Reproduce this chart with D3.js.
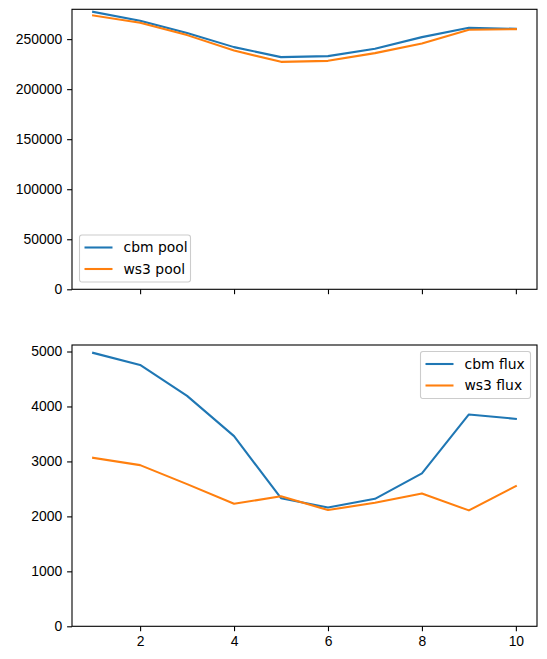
<!DOCTYPE html>
<html>
<head>
<meta charset="utf-8">
<script src="https://cdn.jsdelivr.net/npm/d3@7"></script>
<style>
  body { margin: 0; background: #fff; }
  svg { display: block; font-family: "DejaVu Sans", sans-serif; }
  .axis text { font-size: 13.9px; fill: #000; }
  .axis path, .axis line { stroke: #000; stroke-width: 1.1; }
</style>
</head>
<body>
<div id="chart"></div>
<script>
//Datos
const periods = [1, 2, 3, 4, 5, 6, 7, 8, 9, 10];
const cbmPool = [277300, 268300, 256000, 242000, 232000, 233000, 240300, 252000, 261300, 260300];
const ws3Pool = [273600, 266300, 254000, 238600, 227300, 228300, 236000, 245600, 259300, 260000];
const cbmFlux = [4975, 4756, 4193, 3460, 2330, 2160, 2320, 2782, 3855, 3775];
const ws3Flux = [3066, 2933, 2587, 2229, 2365, 2115, 2247, 2418, 2109, 2551];
const xTicks = [2, 4, 6, 8, 10];
const poolTicks = [0, 50000, 100000, 150000, 200000, 250000];
const fluxTicks = [0, 1000, 2000, 3000, 4000, 5000];

//Colores fijos
const COLOR_1 = '#1f77b4',
COLOR_2 = '#ff7f0e';

let W = 547, H = 659;
let left = 72, right = 537;

let svg = d3.select('#chart')
    .append('svg')
        .attr('width', W)
        .attr('height', H);

let x = d3.scaleLinear()
    .domain([0.55, 10.45])
    .range([left, right]);

function panel(top, bottom, a, b, names, ticks, legendPos, showXLabels) {
    let all = a.concat(b);
    let mx = d3.max(all), mn = d3.min(all);
    let y = d3.scaleLinear()
        .domain([0, mx + 0.05 * (mx - mn)])
        .range([bottom, top]);

    let g = svg.append('g');

    let line = d3.line()
        .x(function(d, i) { return x(periods[i]); })
        .y(function(d) { return y(d); });

    [a, b].forEach(function(s, k) {
        g.append('path')
            .datum(s)
            .attr('fill', 'none')
            .attr('stroke', k == 0 ? COLOR_1 : COLOR_2)
            .attr('stroke-width', 2.08)
            .attr('stroke-linejoin', 'round')
            .attr('stroke-linecap', 'square')
            .attr('d', line);
    });

    //Ejes
    g.append('g')
        .attr('class', 'axis')
        .attr('transform', 'translate(' + left + ',0)')
        .call(d3.axisLeft(y).tickValues(ticks).tickSizeOuter(0).tickSize(4.9).tickPadding(4.9).tickFormat(d3.format('d')))
        .call(function(g) { g.select('.domain').remove(); });

    g.append('g')
        .attr('class', 'axis')
        .attr('transform', 'translate(0,' + bottom + ')')
        .call(d3.axisBottom(x).tickValues(xTicks).tickSizeOuter(0).tickSize(4.9).tickPadding(4.9)
            .tickFormat(showXLabels ? d3.format('d') : function() { return ''; }))
        .call(function(g) { g.select('.domain').remove(); });

    g.append('rect')
        .attr('x', left)
        .attr('y', top)
        .attr('width', right - left)
        .attr('height', bottom - top)
        .attr('fill', 'none')
        .attr('stroke', '#000')
        .attr('stroke-width', 1.1);

    //Leyenda
    let lw = legendPos.w, lh = 47;
    let lg = g.append('g')
        .attr('transform', 'translate(' + legendPos.x + ',' + legendPos.y + ')');
    lg.append('rect')
        .attr('width', lw)
        .attr('height', lh)
        .attr('rx', 2.5)
        .attr('fill', 'rgba(255,255,255,0.8)')
        .attr('stroke', '#cccccc')
        .attr('stroke-width', 1.1);
    names.forEach(function(n, k) {
        let cy = 12.5 + k * 21.5;
        lg.append('line')
            .attr('x1', 5).attr('x2', 33)
            .attr('y1', cy).attr('y2', cy)
            .attr('stroke', k == 0 ? COLOR_1 : COLOR_2)
            .attr('stroke-width', 2.08);
        lg.append('text')
            .attr('x', 44)
            .attr('y', cy)
            .attr('dy', '0.35em')
            .style('font-size', '13.9px')
            .text(n);
    });
}

panel(9.3, 289.3, cbmPool, ws3Pool, ['cbm pool', 'ws3 pool'], poolTicks, {x: 79.5, y: 235, w: 111}, false);
panel(345, 626.3, cbmFlux, ws3Flux, ['cbm flux', 'ws3 flux'], fluxTicks, {x: 420.5, y: 351.5, w: 110}, true);
</script>
</body>
</html>
